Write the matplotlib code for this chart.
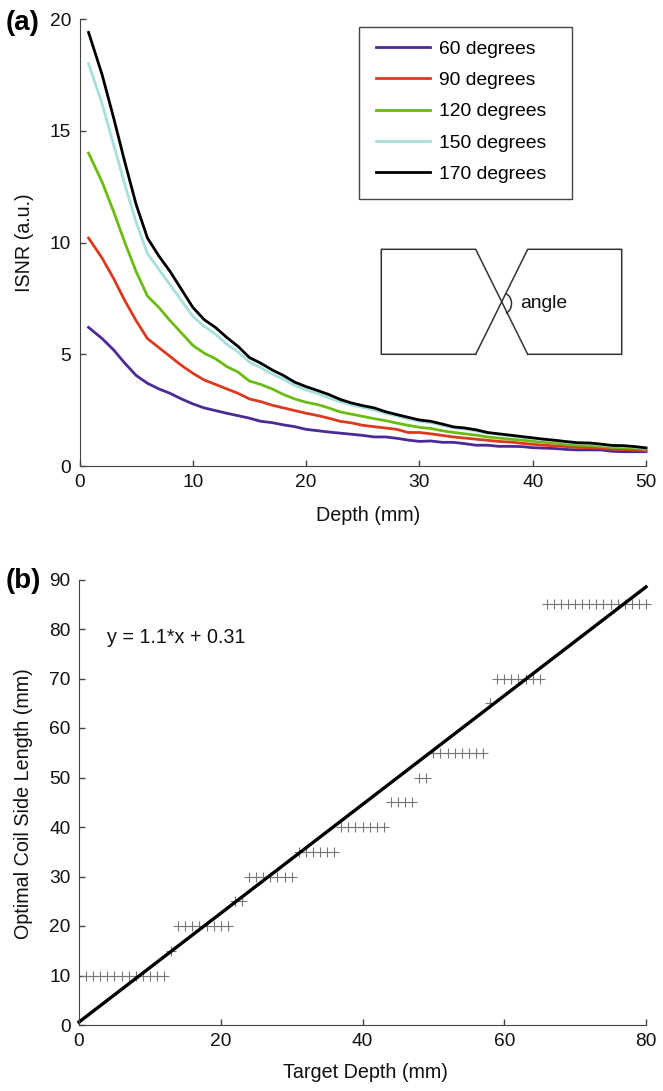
import matplotlib
matplotlib.use('Agg')
from matplotlib import pyplot as plt
from matplotlib.lines import Line2D
from matplotlib.patches import Arc, Rectangle

plt.rcParams['font.family'] = ['Liberation Sans', 'DejaVu Sans']

W, H = 663, 1091

depth = [0.8] + list(range(2, 51))
isnr_60 = [6.2, 5.7, 5.2, 4.6, 4.05, 3.7, 3.45, 3.25, 3.0, 2.78, 2.6, 2.48, 2.36, 2.25, 2.14, 2.0, 1.94,
           1.84, 1.76, 1.64, 1.58, 1.52, 1.47, 1.42, 1.37, 1.3, 1.3, 1.24, 1.16, 1.1, 1.12, 1.06, 1.06,
           1.0, 0.93, 0.93, 0.88, 0.88, 0.87, 0.82, 0.8, 0.78, 0.74, 0.72, 0.72, 0.72, 0.66, 0.64, 0.64, 0.64]
isnr_90 = [10.2, 9.3, 8.4, 7.4, 6.5, 5.7, 5.3, 4.9, 4.5, 4.15, 3.85, 3.65, 3.45, 3.25, 3.0, 2.88, 2.72,
           2.6, 2.48, 2.36, 2.26, 2.14, 2.0, 1.93, 1.82, 1.76, 1.7, 1.64, 1.5, 1.5, 1.44, 1.37, 1.3,
           1.25, 1.2, 1.15, 1.1, 1.07, 1.02, 0.97, 0.93, 0.9, 0.87, 0.83, 0.82, 0.8, 0.75, 0.74, 0.72, 0.68]
isnr_120 = [14.0, 12.7, 11.4, 10.0, 8.7, 7.6, 7.1, 6.5, 5.95, 5.4, 5.05, 4.8, 4.45, 4.2, 3.8, 3.65, 3.45,
            3.2, 3.0, 2.85, 2.75, 2.6, 2.42, 2.32, 2.22, 2.12, 2.03, 1.92, 1.82, 1.73, 1.68, 1.58, 1.5,
            1.44, 1.38, 1.3, 1.25, 1.2, 1.16, 1.11, 1.06, 1.02, 0.96, 0.93, 0.92, 0.88, 0.83, 0.82, 0.8, 0.75]
isnr_150 = [18.0, 16.2, 14.4, 12.6, 10.9, 9.5, 8.8, 8.1, 7.4, 6.7, 6.25, 5.9, 5.45, 5.1, 4.65, 4.4, 4.12,
            3.88, 3.6, 3.4, 3.25, 3.05, 2.88, 2.73, 2.62, 2.5, 2.36, 2.24, 2.12, 2.0, 1.94, 1.82, 1.72,
            1.65, 1.57, 1.47, 1.42, 1.35, 1.29, 1.23, 1.17, 1.13, 1.06, 1.02, 1.0, 0.95, 0.9, 0.89, 0.85, 0.79]
isnr_170 = [19.4, 17.5, 15.6, 13.6, 11.7, 10.2, 9.4, 8.7, 7.9, 7.1, 6.55, 6.2, 5.75, 5.35, 4.85, 4.6, 4.3,
            4.05, 3.75, 3.55, 3.38, 3.2, 2.98, 2.82, 2.7, 2.6, 2.43, 2.3, 2.18, 2.06, 2.0, 1.88, 1.75,
            1.7, 1.62, 1.5, 1.44, 1.38, 1.32, 1.26, 1.2, 1.15, 1.09, 1.04, 1.03, 0.98, 0.92, 0.91, 0.87, 0.81]
angle_labels = ['60 degrees', '90 degrees', '120 degrees', '150 degrees', '170 degrees']

target_depth = list(range(1, 81))
coil_side = [10] * 12 + [15] + [20] * 8 + [25] * 2 + [30] * 7 + [35] * 6 + [40] * 7 + [45] * 4 + [50] * 2 \
    + [55] * 8 + [65] + [70] * 7 + [85] * 15
fit_x = [0, 80]
fit_y = [0.6, 88.5]

colors = ['#4b2a96', '#dc3a20', '#6abb12', '#a6e0dc', '#000000']
axis_col = '#444444'
fs = 14.2
tick_fs = 13.8


def make_axes(fig, left, right, top, bottom):
    ax = fig.add_axes([left / W, 1 - bottom / H, (right - left) / W, (bottom - top) / H])
    ax.spines['top'].set_visible(False)
    ax.spines['right'].set_visible(False)
    ax.spines['left'].set_color(axis_col)
    ax.spines['bottom'].set_color(axis_col)
    ax.tick_params(direction='in', length=4, width=1, color=axis_col, labelsize=tick_fs, pad=6,
                   labelcolor='#111111')
    return ax


def px_line(fig, xs, ys):
    fig.add_artist(Line2D([x / W for x in xs], [1 - y / H for y in ys], color='#333333', lw=1.1))


fig = plt.figure(figsize=(W / 100, H / 100), dpi=100)

# panel a
ax1 = make_axes(fig, 79.5, 646, 19, 466)
for vals, c, name in zip([isnr_60, isnr_90, isnr_120, isnr_150, isnr_170], colors, angle_labels):
    ax1.plot(depth, vals, color=c, lw=2, label=name, clip_on=False)
ax1.set_xlim(0, 50)
ax1.set_ylim(0, 20)
ax1.set_xticks([0, 10, 20, 30, 40, 50])
ax1.set_yticks([0, 5, 10, 15, 20])
ax1.set_xlabel('Depth (mm)', fontsize=fs, color='#111111')
ax1.set_ylabel('ISNR (a.u.)', fontsize=fs, color='#111111')
ax1.xaxis.label.set_va('center')
ax1.yaxis.label.set_va('center')
ax1.xaxis.set_label_coords(0.509, -(515 - 466) / (466 - 19))
ax1.yaxis.set_label_coords(-(79.5 - 24) / 566.5, 0.5)

# legend box is separate so the inner padding can differ per side
ax1.add_patch(Rectangle((358.5 / W, 1 - 198.5 / H), 213.5 / W, 171.5 / H, transform=fig.transFigure,
                        facecolor='white', edgecolor='#444444', lw=1, clip_on=False, zorder=4))
leg = ax1.legend(loc='upper left', bbox_to_anchor=(376 / W, 1 - 40 / H), bbox_transform=fig.transFigure,
                 borderaxespad=0, borderpad=0, frameon=False, fontsize=13.9, labelspacing=0.72,
                 handlelength=2.8, handletextpad=0.47)

# coil sketch, in image pixels
px_line(fig, [475.7, 381.3, 381.3, 475.7, 527.7], [354.3, 354.3, 249.3, 249.3, 354.3])
px_line(fig, [475.7, 527.7, 621.7, 621.7, 527.7], [354.3, 249.3, 249.3, 354.3, 354.3])
arc = Arc((503 / W, 1 - 303.5 / H), 17 / W, 21 / H, theta1=-65, theta2=65, color='#333333', lw=1.1,
          transform=fig.transFigure)
fig.add_artist(arc)
fig.text(520 / W, 1 - 304 / H, 'angle', fontsize=13.9, va='center', color='#111111')

# panel b
ax2 = make_axes(fig, 79, 646, 579.5, 1025)
ax2.plot(target_depth, coil_side, ls='none', marker='+', ms=7.5, mew=0.8, color='#777777', clip_on=False)
ax2.plot(fit_x, fit_y, color='black', lw=2.4, clip_on=False)
ax2.set_xlim(0, 80)
ax2.set_ylim(0, 90)
ax2.set_xticks([0, 20, 40, 60, 80])
ax2.set_yticks(list(range(0, 100, 10)))
ax2.set_xlabel('Target Depth (mm)', fontsize=fs, color='#111111')
ax2.set_ylabel('Optimal Coil Side Length (mm)', fontsize=fs, color='#111111')
ax2.xaxis.label.set_va('center')
ax2.yaxis.label.set_va('center')
ax2.xaxis.set_label_coords(0.505, -(1073 - 1025) / 445.5)
ax2.yaxis.set_label_coords(-(79 - 24) / 567, 0.497)
ax2.text(3.9, 78.2, 'y = 1.1*x + 0.31', fontsize=fs, va='center', color='#111111')

fig.text(6 / W, 1 - 23 / H, '(a)', fontsize=20, fontweight='bold', va='center')
fig.text(6 / W, 1 - 581 / H, '(b)', fontsize=20, fontweight='bold', va='center')

plt.savefig('out.png', dpi=100)
